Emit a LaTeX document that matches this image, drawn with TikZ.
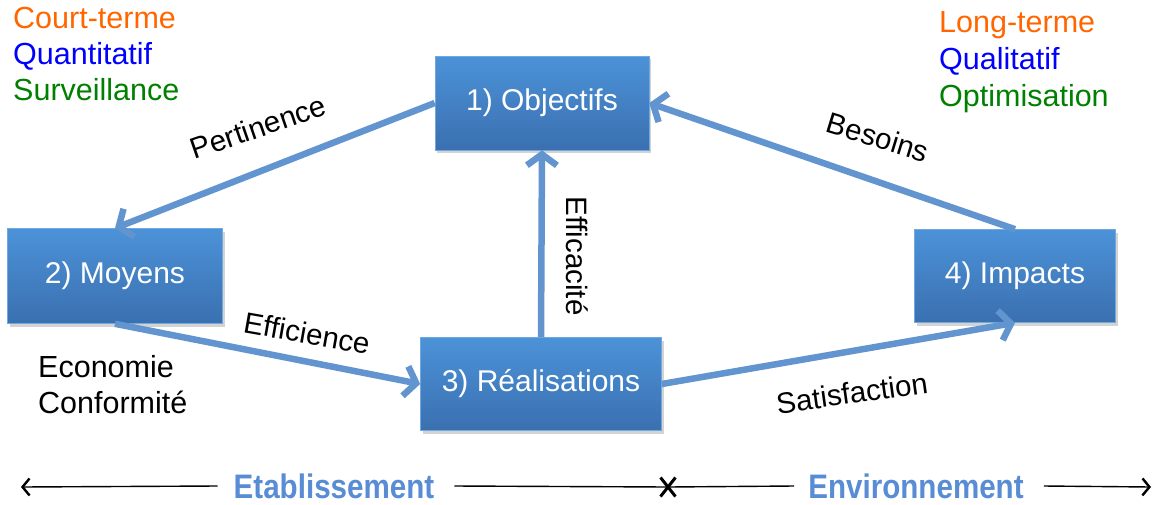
\documentclass[tikz,border=0pt]{standalone}
\usepackage{fontspec}
\setmainfont{Liberation Sans}
\usetikzlibrary{arrows.meta,shadows,shapes.misc}

\definecolor{boxTop}{RGB}{76,146,216}
\definecolor{boxBottom}{RGB}{58,112,176}
\definecolor{arrowBlue}{RGB}{98,148,208}
\definecolor{termOrange}{RGB}{255,102,0}
\definecolor{termBlue}{RGB}{0,0,255}
\definecolor{termGreen}{RGB}{0,128,0}
\definecolor{axisBlue}{RGB}{88,140,212}

\begin{document}
\begin{tikzpicture}
[x=1pt,y=-1pt,
  boxDecorate/.style={shape=rectangle,inner sep=0pt,top color=boxTop,bottom color=boxBottom,
    draw=boxTop!80!white,line width=0.6pt,text=white,font=\fontsize{30}{36}\selectfont,
    drop shadow={opacity=0.35,shadow xshift=2pt,shadow yshift=-3pt}},
  lineDecorate/.style={arrowBlue,line width=6.5pt,-{Straight Barb[length=11pt,width=30pt]}},
  labelDecorate/.style={font=\fontsize{29.5}{34}\selectfont,inner sep=0pt},
  termDecorate/.style={font=\fontsize{30.5}{34}\selectfont,anchor=base west,inner sep=0pt},
  axisDecorate/.style={font=\bfseries\fontsize{34}{38}\selectfont,text=axisBlue,inner sep=0pt},
  axisLine/.style={black,line width=1.4pt},
  axisTip/.tip={Straight Barb[length=7pt,width=17pt,line width=2.4pt]}]
\useasboundingbox (0,0) rectangle (1157,504);
%% boxes
\foreach \nodename/\x/\y/\w/\h/\txt in {
  obj/542/103/214/94/{1) Objectifs},
  moy/115/276/215/95/{2) Moyens},
  rea/541/384/241/93/{3) Réalisations},
  imp/1015/276/201/93/{4) Impacts}}
{
  \node (\nodename) at (\x,\y) [boxDecorate,minimum width=\w pt,minimum height=\h pt] {\txt};
}
%% corner texts
\foreach \nodename/\x/\y/\col/\txt in {
  court/13/28/termOrange/Court-terme,
  quanti/13/64/termBlue/Quantitatif,
  surv/13/100/termGreen/Surveillance,
  long/939/32/termOrange/Long-terme,
  quali/939/69/termBlue/Qualitatif,
  optim/939/106/termGreen/Optimisation,
  eco/38/377/black/Economie,
  conf/38/413/black/Conformité}
{
  \node (\nodename) at (\x,\y) [termDecorate,text=\col] {\txt};
}
%% edge labels
\node (pert) at (258,127) [labelDecorate,rotate=19] {Pertinence};
\node (effi) at (307,333) [labelDecorate,rotate=-10] {Efficience};
\node (effa) at (577,256) [labelDecorate,rotate=-90] {Efficacité};
\node (beso) at (878,137) [labelDecorate,rotate=-17] {Besoins};
\node (sati) at (852,393) [labelDecorate,rotate=8] {Satisfaction};
%% edges
\path
  (obj.west) edge[lineDecorate] (moy.north)
  (moy.south) edge[lineDecorate] (rea.west)
  (rea.north) edge[lineDecorate] (obj.south)
  (imp.north) edge[lineDecorate] (obj.east)
  (rea.east) edge[lineDecorate] (imp.south);
%% bottom axis
\coordinate (leftEnd) at (21,487);
\coordinate (rightEnd) at (1151,487);
\node (etab) at (334,486) [axisDecorate] {\scalebox{0.87}[1]{Etablissement}};
\node (envi) at (916,486) [axisDecorate] {\scalebox{0.87}[1]{Environnement}};
\node (cross) at (668,487) [shape=cross out,draw,line width=3pt,minimum width=12pt,minimum height=16pt] {};
\draw[axisLine,{axisTip}-] (leftEnd) -- ([xshift=-16pt]etab.west);
\draw[axisLine] ([xshift=20pt]etab.east) -- (cross.center) -- ([xshift=-14pt]envi.west);
\draw[axisLine,-{axisTip}] ([xshift=20pt]envi.east) -- (rightEnd);
\end{tikzpicture}
\end{document}
